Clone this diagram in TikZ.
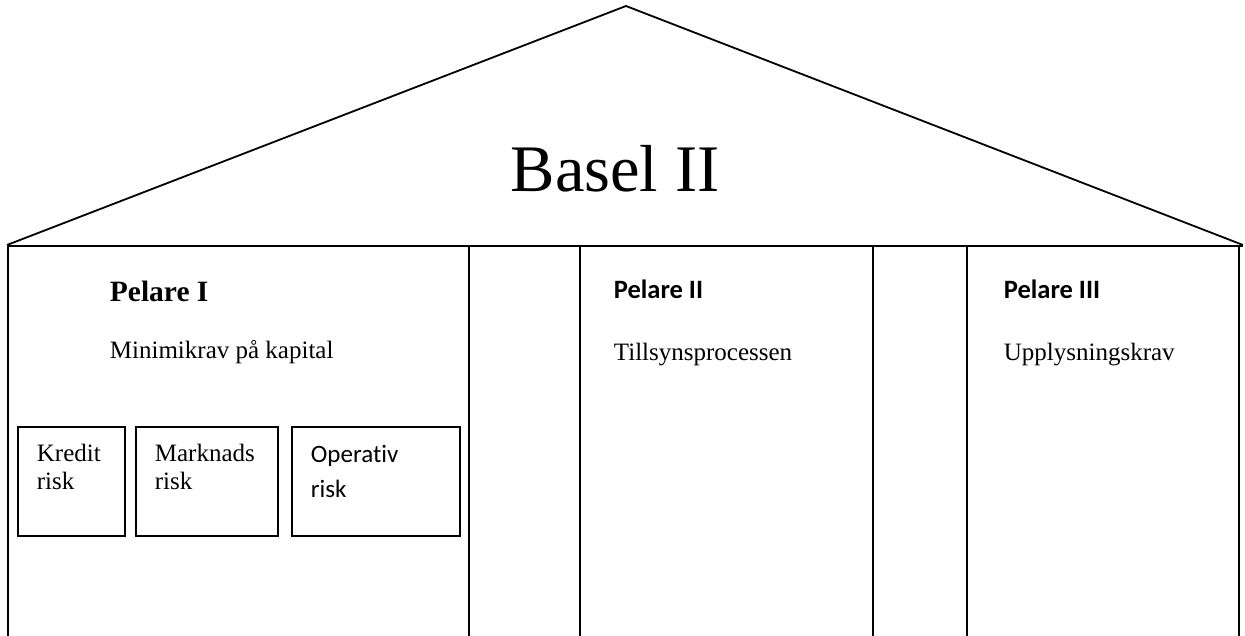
\documentclass[tikz,border=0pt]{standalone}
\usepackage{fontspec}
\setmainfont{Liberation Serif}
\newfontfamily\calibri[Ligatures=NoCommon]{Carlito}
\usetikzlibrary{positioning}

\begin{document}
\begin{tikzpicture}[x=1pt,y=-1pt,line width=1.8pt,
  txt/.style={anchor=base west,inner sep=0pt,font=\fontsize{25}{29}\selectfont},
  head/.style={anchor=base west,inner sep=0pt,font=\calibri\bfseries\fontsize{26.5}{30}\selectfont},
  riskbox/.style={draw,line width=1.5pt}]
 \useasboundingbox (0,0) rectangle (1245,636);
 % roof and pillars
 \draw (7,245) -- (626,6) -- (1243,245);
 \draw (8,246) -- (1243,246);
 \foreach \x in {8,469,580,873,967,1239} \draw (\x,246) -- (\x,637);
 \node[anchor=base,inner sep=0pt,font=\fontsize{66.5}{75}\selectfont] (basel) at (615,192) {Basel II};
 % Pelare I
 \node[txt,font=\bfseries\fontsize{29.5}{32}\selectfont] (p1) at (109,302) {Pelare I};
 \node[txt] (p1t) at (109,358) {Minimikrav på kapital};
 \draw[riskbox] (18,427) rectangle (125,536);
 \draw[riskbox] (136,427) rectangle (278,536);
 \draw[riskbox] (292,427) rectangle (460,536);
 \node[txt] (kredit) at (36,461) {Kredit};
 \node[txt] at (36,489) {risk};
 \node[txt] (marknad) at (154,461) {Marknads};
 \node[txt] at (154,489) {risk};
 \node[txt,font=\calibri\fontsize{25}{29}\selectfont] (operativ) at (310,462) {Operativ};
 \node[txt,font=\calibri\fontsize{25}{29}\selectfont] at (310,497) {risk};
 % Pelare II and III
 \node[head] (p2) at (613,299) {Pelare II};
 \node[txt] (p2t) at (613,360) {Tillsynsprocessen};
 \node[head] (p3) at (1003,299) {Pelare III};
 \node[txt] (p3t) at (1003,360) {Upplysningskrav};
\end{tikzpicture}
\end{document}
